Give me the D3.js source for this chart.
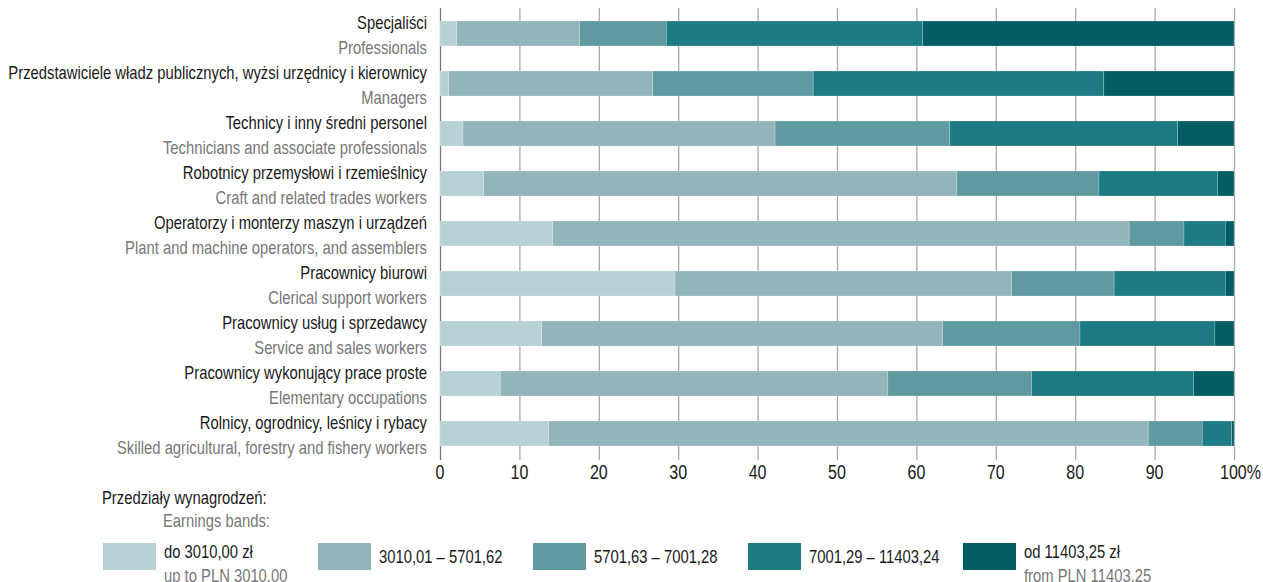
<!DOCTYPE html>
<html>
<head>
<meta charset="utf-8">
<script src="https://cdn.jsdelivr.net/npm/d3@7"></script>
<style>
  body { margin: 0; background: #fff; }
  svg { display: block; font-family: "Liberation Sans", Arial, sans-serif; }
</style>
</head>
<body>
<div id="chart"></div>
<script>
// occupation groups, polish + english
const groupsPl = ["Specjaliści", "Przedstawiciele władz publicznych, wyżsi urzędnicy i kierownicy", "Technicy i inny średni personel",
  "Robotnicy przemysłowi i rzemieślnicy", "Operatorzy i monterzy maszyn i urządzeń", "Pracownicy biurowi",
  "Pracownicy usług i sprzedawcy", "Pracownicy wykonujący prace proste", "Rolnicy, ogrodnicy, leśnicy i rybacy"];
const groupsEn = ["Professionals", "Managers", "Technicians and associate professionals",
  "Craft and related trades workers", "Plant and machine operators, and assemblers", "Clerical support workers",
  "Service and sales workers", "Elementary occupations", "Skilled agricultural, forestry and fishery workers"];

// share (%) of each earnings band
const band1 = [2.1, 1.1, 2.9, 5.5, 14.2, 29.6, 12.8, 7.6, 13.7];
const band2 = [15.5, 25.7, 39.3, 59.6, 72.6, 42.4, 50.5, 48.8, 75.5];
const band3 = [10.9, 20.2, 22.0, 17.9, 6.9, 12.9, 17.3, 18.1, 6.8];
const band4 = [32.3, 36.6, 28.7, 14.9, 5.2, 14.0, 17.0, 20.4, 3.7];
const band5 = [39.2, 16.4, 7.1, 2.1, 1.1, 1.1, 2.4, 5.1, 0.3];

const bandsPl = ["do 3010,00 zł", "3010,01 – 5701,62", "5701,63 – 7001,28", "7001,29 – 11403,24", "od 11403,25 zł"];
const bandsEn = ["up to PLN 3010.00", "", "", "", "from PLN 11403.25"];
const colors = ["#b8d1d5", "#92b5ba", "#5f9aa0", "#1c7b83", "#035e64"];
const xTicks = [0, 10, 20, 30, 40, 50, 60, 70, 80, 90, 100];

const width = 1263, height = 582;
const fs = 18;
const svg = d3.select("#chart").append("svg")
  .attr("width", width)
  .attr("height", height);

// condensed look: squeeze text so the longest label is ~419px wide
let tmp = svg.append("text").style("font-size", fs + "px").text(groupsPl[1]);
let k = 419 / tmp.node().getComputedTextLength();
tmp.remove();

function putText(sel, xf, yf, size) {
  sel.attr("transform", (d, i) => "translate(" + xf(d, i) + "," + yf(d, i) + ") scale(" + k + ",1)")
    .style("font-size", (size || fs) + "px");
  return sel;
}

let x = d3.scaleLinear().domain([0, 100]).range([440, 1234]);
let y = d3.scaleBand().domain(d3.range(groupsPl.length)).range([8.5, 458.5]).paddingInner(0.5).paddingOuter(0.25);

// grid lines
svg.selectAll("line.grid")
  .data(xTicks)
  .enter()
  .append("line")
  .attr("x1", d => x(d) + 0.5)
  .attr("x2", d => x(d) + 0.5)
  .attr("y1", 8)
  .attr("y2", 460)
  .attr("stroke", (d, i) => i == 0 ? "#777" : "#a8a8a8")
  .attr("stroke-width", 1.3);

const table = groupsPl.map((g, i) => ({ key: i, b0: band1[i], b1: band2[i], b2: band3[i], b3: band4[i], b4: band5[i] }));
const stack = d3.stack().keys(["b0", "b1", "b2", "b3", "b4"]);
const series = stack(table);

svg.selectAll("g.series")
  .data(series)
  .enter()
  .append("g")
  .attr("fill", (d, i) => colors[i])
  .selectAll("rect")
  .data(d => d)
  .enter()
  .append("rect")
  .attr("x", d => x(d[0]))
  .attr("y", d => y(d.data.key))
  .attr("width", d => x(d[1]) - x(d[0]))
  .attr("height", y.bandwidth())
  .attr("stroke", "rgba(255,255,255,0.35)")
  .attr("stroke-width", 0.6);

// category labels
putText(svg.selectAll("text.pl").data(groupsPl).enter().append("text"), () => 427, (d, i) => y(i) + 8)
  .attr("text-anchor", "end").attr("fill", "#1a1a1a").text(d => d);
putText(svg.selectAll("text.en").data(groupsEn).enter().append("text"), () => 427, (d, i) => y(i) + 33)
  .attr("text-anchor", "end").attr("fill", "#777").text(d => d);

// x axis labels
putText(svg.selectAll("text.tick").data(xTicks).enter().append("text"), d => d == 100 ? x(d) - 14 : x(d), () => 479, 19.5)
  .attr("text-anchor", d => d == 100 ? "start" : "middle")
  .attr("fill", "#1a1a1a")
  .text(d => d == 100 ? "100%" : d);

// legend
putText(svg.append("text"), () => 102, () => 504).attr("fill", "#1a1a1a").text("Przedziały wynagrodzeń:");
putText(svg.append("text"), () => 163, () => 527).attr("fill", "#777").text("Earnings bands:");

const leg = svg.selectAll("g.leg")
  .data(bandsPl)
  .enter()
  .append("g")
  .attr("transform", (d, i) => "translate(" + (103 + i * 215) + ",543)");
leg.append("rect").attr("width", 53).attr("height", 27).attr("fill", (d, i) => colors[i]);
putText(leg.append("text"), () => 61, (d, i) => bandsEn[i] ? 15 : 20)
  .attr("fill", "#1a1a1a")
  .text(d => d);
putText(leg.append("text"), () => 61, () => 39)
  .attr("fill", "#777")
  .text((d, i) => bandsEn[i]);
</script>
</body>
</html>
